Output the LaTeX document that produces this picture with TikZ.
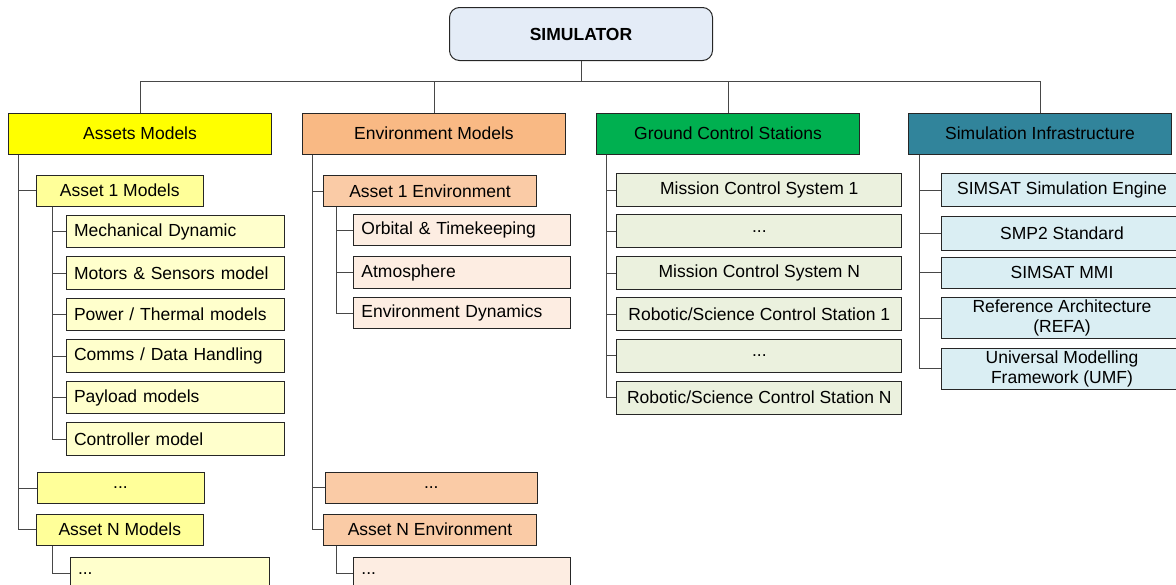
\documentclass[tikz,border=0pt]{standalone}
\usepackage{fontspec}
\setmainfont{Liberation Sans}
\usetikzlibrary{positioning}

\definecolor{simfill}{HTML}{E4ECF7}
\definecolor{assethead}{HTML}{FFFF00}
\definecolor{assetsub}{HTML}{FFFF99}
\definecolor{assetleaf}{HTML}{FFFFCC}
\definecolor{envhead}{HTML}{F9B984}
\definecolor{envsub}{HTML}{FACBA6}
\definecolor{envleaf}{HTML}{FDEDE2}
\definecolor{gcshead}{HTML}{00B050}
\definecolor{gcsleaf}{HTML}{EBF1DE}
\definecolor{infrahead}{HTML}{31849B}
\definecolor{infraleaf}{HTML}{DAEEF3}

\begin{document}
\begin{tikzpicture}[x=0.5pt,y=-0.5pt,
	every node/.style={font=\fontsize{8.75}{10}\selectfont, inner sep=0pt},
	box/.style={draw=black!85, line width=0.5pt},
	top/.style={box, rounded corners=5pt, fill=simfill, minimum width=131.5pt, minimum height=26.5pt, font=\fontsize{8.75}{10}\selectfont\bfseries},
	head/.style={box, minimum width=131.3pt, minimum height=20.5pt},
	sub/.style={box, minimum width=83.5pt, minimum height=15.5pt},
	lleaf/.style={box, inner xsep=4pt, text width=#1, align=left},
	cleaf/.style={box, minimum width=#1, align=center},
	link/.style={draw=black!72, line width=0.5pt}]

	\useasboundingbox (0,0) rectangle (1176,584);

	% Root
	\node[top] (sim) at (581,34) {SIMULATOR};

	% Main branches
	\node[head, fill=assethead] (assets) at (140,133.5) {Assets Models};
	\node[head, fill=envhead] (env) at (434,133.5) {Environment Models};
	\node[head, fill=gcshead] (gcs) at (728,133.5) {Ground Control Stations};
	\node[head, fill=infrahead] (infra) at (1040,133.5) {Simulation Infrastructure};

	\foreach \h in {assets,env,gcs,infra}
		\draw[link] (sim.south) -- ++(0,20) -| (\h.north);

	% Assets models
	\node[sub, fill=assetsub] (a1) at (119.8,190.5) {Asset 1 Models};
	\node[lleaf=101pt, fill=assetleaf, minimum height=16.25pt] (mech) at (175,231.5) {Mechanical Dynamic};
	\node[lleaf=101pt, fill=assetleaf, minimum height=16.25pt] (motors) at (175,273) {Motors \& Sensors model};
	\node[lleaf=101pt, fill=assetleaf, minimum height=16.25pt] (power) at (175,314.5) {Power / Thermal models};
	\node[lleaf=101pt, fill=assetleaf, minimum height=16.25pt] (comms) at (175,356) {Comms / Data Handling};
	\node[lleaf=101pt, fill=assetleaf, minimum height=16.25pt] (payload) at (175,397.5) {Payload models};
	\node[lleaf=101pt, fill=assetleaf, minimum height=16.25pt] (ctrl) at (175,439) {Controller model};
	\node[sub, fill=assetsub] (adots) at (120.5,488) {...};
	\node[sub, fill=assetsub] (aN) at (119.8,529.7) {Asset N Models};
	\node[lleaf=91.5pt, fill=assetleaf, minimum height=16.5pt] (aNx) at (169.5,573.5) {...};

	\foreach \c in {a1,adots,aN}
		\draw[link] ([xshift=5pt]assets.south west) |- (\c.west);
	\foreach \c in {mech,motors,power,comms,payload,ctrl}
		\draw[link] ([xshift=8.5pt]a1.south west) |- (\c.west);
	\draw[link] ([xshift=8.5pt]aN.south west) |- (aNx.west);

	% Environment models
	\node[sub, fill=envsub, minimum width=106.7pt] (e1) at (430,191.2) {Asset 1 Environment};
	\node[lleaf=100.3pt, fill=envleaf, minimum height=15.75pt] (orbit) at (461.7,230) {Orbital \& Timekeeping};
	\node[lleaf=100.3pt, fill=envleaf, minimum height=15.75pt] (atmo) at (461.7,272.5) {Atmosphere};
	\node[lleaf=100.3pt, fill=envleaf, minimum height=15.75pt] (edyn) at (461.7,313) {Environment Dynamics};
	\node[sub, fill=envsub, minimum width=106.3pt] (edots) at (431.3,487.5) {...};
	\node[sub, fill=envsub, minimum width=106.7pt] (eN) at (430,529.7) {Asset N Environment};
	\node[lleaf=100.3pt, fill=envleaf, minimum height=16.5pt] (eNx) at (461.7,573.5) {...};

	\foreach \c in {e1,edots,eN}
		\draw[link] ([xshift=5pt]env.south west) |- (\c.west);
	\foreach \c in {orbit,atmo,edyn}
		\draw[link] ([xshift=6.7pt]e1.south west) |- (\c.west);
	\draw[link] ([xshift=6.7pt]eN.south west) |- (eNx.west);

	% Ground control stations
	\node[cleaf=142.6pt, fill=gcsleaf, minimum height=16.5pt] (mcs1) at (759.3,190) {Mission Control System 1};
	\node[cleaf=142.6pt, fill=gcsleaf, minimum height=16.5pt] (mcsdots) at (759.3,231.3) {...};
	\node[cleaf=142.6pt, fill=gcsleaf, minimum height=16.5pt] (mcsN) at (759.3,273) {Mission Control System N};
	\node[cleaf=142.6pt, fill=gcsleaf, minimum height=16.5pt] (rcs1) at (759.3,314.2) {Robotic/Science Control Station 1};
	\node[cleaf=142.6pt, fill=gcsleaf, minimum height=16.5pt] (rcsdots) at (759.3,355.8) {...};
	\node[cleaf=142.6pt, fill=gcsleaf, minimum height=16.5pt] (rcsN) at (759.3,397.5) {Robotic/Science Control Station N};

	\foreach \c in {mcs1,mcsdots,mcsN,rcs1,rcsdots,rcsN}
		\draw[link] ([xshift=5pt]gcs.south west) |- (\c.west);

	% Simulation infrastructure
	\node[cleaf=120.3pt, fill=infraleaf, minimum height=16.7pt] (engine) at (1062,190) {SIMSAT Simulation Engine};
	\node[cleaf=120.3pt, fill=infraleaf, minimum height=16.7pt] (smp) at (1062,233.3) {SMP2 Standard};
	\node[cleaf=120.3pt, fill=infraleaf, minimum height=15.5pt] (mmi) at (1062,272.8) {SIMSAT MMI};
	\node[cleaf=120.3pt, fill=infraleaf, minimum height=20.6pt] (refa) at (1062,318.3) {Reference Architecture\\(REFA)};
	\node[cleaf=120.3pt, fill=infraleaf, minimum height=20.3pt] (umf) at (1062,368.7) {Universal Modelling\\Framework (UMF)};

	\foreach \c in {engine,smp,mmi,refa,umf}
		\draw[link] ([xshift=5.5pt]infra.south west) |- (\c.west);

\end{tikzpicture}
\end{document}
